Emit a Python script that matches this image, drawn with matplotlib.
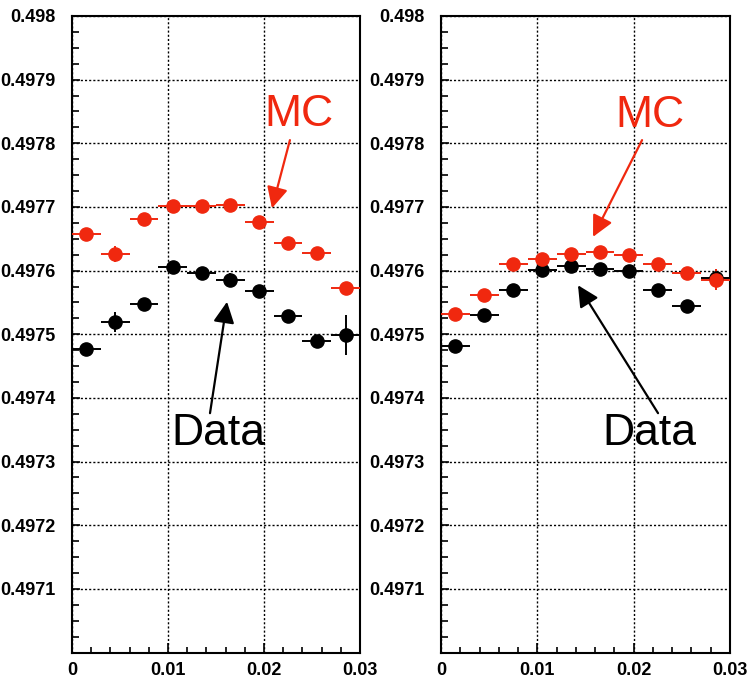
import matplotlib.pyplot as plt
from matplotlib.ticker import FixedLocator, MultipleLocator
import numpy as np

# bin centres (bin width 0.003)
x_centres = [0.0015, 0.0045, 0.0075, 0.0105, 0.0135, 0.0165, 0.0195, 0.0225, 0.0255, 0.0285]
x_halfwidth = 0.0015

# left panel
left_mc = [0.497658, 0.497626, 0.497681, 0.497701, 0.497702, 0.497703, 0.497676, 0.497644, 0.497627, 0.497573]
left_mc_err = [0.6e-5, 1.2e-5, 0.6e-5, 0.6e-5, 0.6e-5, 0.6e-5, 0.6e-5, 0.6e-5, 0.6e-5, 0.7e-5]
left_data = [0.497477, 0.497519, 0.497548, 0.497605, 0.497597, 0.497586, 0.497568, 0.497529, 0.497489, 0.497499]
left_data_err = [0.8e-5, 1.6e-5, 0.8e-5, 0.8e-5, 0.8e-5, 1.1e-5, 0.8e-5, 0.9e-5, 1.0e-5, 3.1e-5]

# right panel
right_mc = [0.497532, 0.497562, 0.497611, 0.497619, 0.497626, 0.497629, 0.497625, 0.497611, 0.497597, 0.497586]
right_mc_err = [0.6e-5, 0.6e-5, 0.6e-5, 0.6e-5, 0.6e-5, 0.6e-5, 0.6e-5, 0.6e-5, 0.6e-5, 1.7e-5]
right_data = [0.497482, 0.497531, 0.497569, 0.497601, 0.497607, 0.497603, 0.497599, 0.497570, 0.497544, 0.497588]
right_data_err = [0.8e-5, 0.8e-5, 0.8e-5, 0.8e-5, 0.8e-5, 0.8e-5, 0.8e-5, 0.8e-5, 0.8e-5, 1.5e-5]

y_ticks = [0.4971, 0.4972, 0.4973, 0.4974, 0.4975, 0.4976, 0.4977, 0.4978, 0.4979, 0.4980]
y_labels = ["0.4971", "0.4972", "0.4973", "0.4974", "0.4975", "0.4976", "0.4977", "0.4978", "0.4979", "0.498"]
x_ticks = [0.0, 0.01, 0.02, 0.03]
x_labels = ["0", "0.01", "0.02", "0.03"]

RED = "#f0280f"
BLACK = "#000000"

plt.rcParams['font.family'] = ['Liberation Sans', 'DejaVu Sans']

fig = plt.figure(figsize=(7.54, 6.81), dpi=100)
ax_left = fig.add_axes([72 / 754, 28.5 / 681, 288 / 754, 636.5 / 681])
ax_right = fig.add_axes([441 / 754, 28.5 / 681, 289 / 754, 636.5 / 681])


def style_axes(ax):
    ax.set_xlim(0, 0.03)
    ax.set_ylim(0.4970, 0.4980)
    for sp in ax.spines.values():
        sp.set_linewidth(1.5)
    ax.xaxis.set_major_locator(FixedLocator(x_ticks))
    ax.set_xticklabels(x_labels, fontsize=13, fontweight='bold')
    ax.xaxis.set_minor_locator(MultipleLocator(0.002))
    ax.yaxis.set_major_locator(FixedLocator(y_ticks))
    ax.set_yticklabels(y_labels, fontsize=13, fontweight='bold')
    ax.yaxis.set_minor_locator(MultipleLocator(0.000025))
    ax.tick_params(axis='x', which='major', direction='in', length=7, width=1.2, pad=7, top=False)
    ax.tick_params(axis='x', which='minor', direction='in', length=4.5, width=1.2, top=False)
    ax.tick_params(axis='y', which='major', direction='in', length=6, width=1.2, pad=12, right=False)
    ax.tick_params(axis='y', which='minor', direction='in', length=5, width=1.2, right=False)
    ax.grid(True, which='major', color='black', linestyle=(0, (1.5, 1.5)), linewidth=1.0)
    ax.set_axisbelow(True)


def draw_points(ax, yvals, yerr, color):
    ax.errorbar(x_centres, yvals, xerr=x_halfwidth, yerr=yerr, fmt='o', color=color,
                markersize=9.5, elinewidth=1.4, capsize=0, zorder=3)


for ax in (ax_left, ax_right):
    style_axes(ax)

draw_points(ax_left, left_data, left_data_err, BLACK)
draw_points(ax_left, left_mc, left_mc_err, RED)
draw_points(ax_right, right_data, right_data_err, BLACK)
draw_points(ax_right, right_mc, right_mc_err, RED)

arrow_kw = dict(arrowstyle='-|>', lw=1.6, mutation_scale=32, shrinkA=0, shrinkB=0)

# left annotations
ax_left.text(0.0236, 0.497846, "MC", color=RED, fontsize=32, ha='center', va='center')
ax_left.annotate('', xy=(0.02083, 0.497698), xytext=(0.0227, 0.497805),
                 arrowprops=dict(color=RED, **arrow_kw))
ax_left.text(0.01521, 0.497344, "Data", color=BLACK, fontsize=32, ha='center', va='center')
ax_left.annotate('', xy=(0.01615, 0.497551), xytext=(0.014375, 0.497376),
                 arrowprops=dict(color=BLACK, **arrow_kw))

# right annotations
ax_right.text(0.0217, 0.497844, "MC", color=RED, fontsize=32, ha='center', va='center')
ax_right.annotate('', xy=(0.01578, 0.497653), xytext=(0.02087, 0.497805),
                  arrowprops=dict(color=RED, **arrow_kw))
ax_right.text(0.02164, 0.497344, "Data", color=BLACK, fontsize=32, ha='center', va='center')
ax_right.annotate('', xy=(0.01422, 0.497577), xytext=(0.02253, 0.497376),
                  arrowprops=dict(color=BLACK, **arrow_kw))

fig.savefig("out.png", dpi=100)
